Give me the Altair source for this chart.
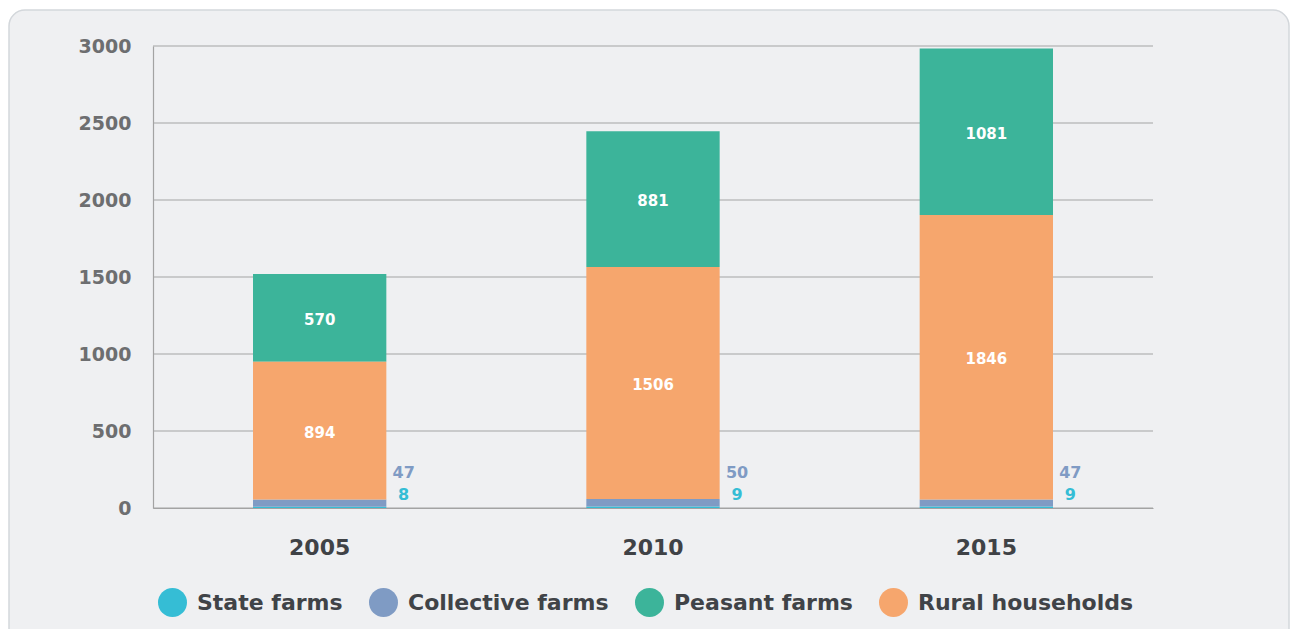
import altair as alt
import pandas as pd

years = ["2005", "2010", "2015"]
categories = ["State farms", "Collective farms", "Peasant farms", "Rural households"]
state_farms = [8, 9, 9]
collective_farms = [47, 50, 47]
peasant_farms = [570, 881, 1081]
rural_households = [894, 1506, 1846]
y_ticks = [0, 500, 1000, 1500, 2000, 2500, 3000]

colors = ["#35bdd5", "#7f9bc4", "#3cb49a", "#f6a66d"]
stack_rank = {"State farms": 0, "Collective farms": 1, "Rural households": 2, "Peasant farms": 3}

rows = []
series = {"State farms": state_farms, "Collective farms": collective_farms,
          "Peasant farms": peasant_farms, "Rural households": rural_households}
for i, yr in enumerate(years):
    for cat in categories:
        rows.append({"year": yr, "category": cat, "value": series[cat][i], "rank": stack_rank[cat]})
df = pd.DataFrame(rows)
grid_df = pd.DataFrame({"tick": y_ticks})

FONT = "DejaVu Sans"
LINE = "#a3a3a3"

x_enc = alt.X("year:N", sort=years,
              scale=alt.Scale(paddingInner=0.6, paddingOuter=0.3),
              axis=alt.Axis(title=None, labelAngle=0, labelFont=FONT, labelFontSize=22,
                            labelFontWeight="bold", labelColor="#3f4246", labelPadding=29,
                            ticks=False, domainColor=LINE, domainWidth=1.2, grid=False,
                            zindex=1))

y_scale = alt.Scale(domain=[0, 3000], nice=False)
color_scale = alt.Scale(domain=categories, range=colors)

bg = alt.Chart(alt.Data(values=[{}])).mark_rect(
    fill="#eff0f2", stroke="#d3d7db", strokeWidth=1.5, cornerRadius=16
).encode(x=alt.value(-144), x2=alt.value(1136), y=alt.value(-36), y2=alt.value(600))

grid = alt.Chart(grid_df).mark_rule(color=LINE, strokeWidth=1.2).encode(
    y=alt.Y("tick:Q", scale=y_scale), x=alt.value(0), x2=alt.value(1000))

bars = alt.Chart(df).mark_bar().encode(
    x=x_enc,
    y=alt.Y("value:Q", stack="zero", scale=y_scale,
            axis=alt.Axis(title=None, values=y_ticks, format="d", labelFont=FONT,
                          labelFontSize=19, labelFontWeight="bold", labelColor="#6d6e70",
                          labelPadding=22, ticks=False, domainColor=LINE, domainWidth=1.2,
                          grid=False, zindex=1)),
    color=alt.Color("category:N", scale=color_scale,
                    legend=alt.Legend(title=None, orient="none", legendX=5, legendY=542,
                                      direction="horizontal", symbolType="circle",
                                      symbolSize=841, symbolStrokeWidth=0, symbolOpacity=1,
                                      labelFont=FONT, labelFontSize=22, labelFontWeight="bold",
                                      labelColor="#404347", labelOffset=10, columnPadding=26,
                                      labelLimit=400)),
    order=alt.Order("rank:Q", sort="ascending"),
)

inner = alt.Chart(df).transform_stack(
    stack="value", groupby=["year"], as_=["y0", "y1"],
    sort=[alt.SortField("rank", order="ascending")]
).transform_calculate(mid="(datum.y0 + datum.y1) / 2").transform_filter(
    "datum.rank >= 2"
).mark_text(color="white", font=FONT, fontSize=15, fontWeight="bold", dy=2).encode(
    x=alt.X("year:N", sort=years), y=alt.Y("mid:Q"), text=alt.Text("value:Q")
)

small_coll = alt.Chart(df).transform_filter("datum.rank == 1").transform_calculate(
    base="0").mark_text(font=FONT, fontSize=16, fontWeight="bold", dx=84, dy=-35).encode(
    x=alt.X("year:N", sort=years), y=alt.Y("base:Q"), text=alt.Text("value:Q"),
    color=alt.Color("category:N", scale=color_scale, legend=None))

small_state = alt.Chart(df).transform_filter("datum.rank == 0").transform_calculate(
    base="0").mark_text(font=FONT, fontSize=16, fontWeight="bold", dx=84, dy=-13).encode(
    x=alt.X("year:N", sort=years), y=alt.Y("base:Q"), text=alt.Text("value:Q"),
    color=alt.Color("category:N", scale=color_scale, legend=None))

chart = alt.layer(bg, grid, bars, inner, small_coll, small_state).properties(
    width=1000, height=462,
    autosize=alt.AutoSizeParams(type="none"),
    padding={"left": 145, "top": 38, "right": 137, "bottom": 121},
    background="white",
).configure_view(stroke=None)

chart.save("out.html", embed_options={"renderer": "svg", "actions": False})
